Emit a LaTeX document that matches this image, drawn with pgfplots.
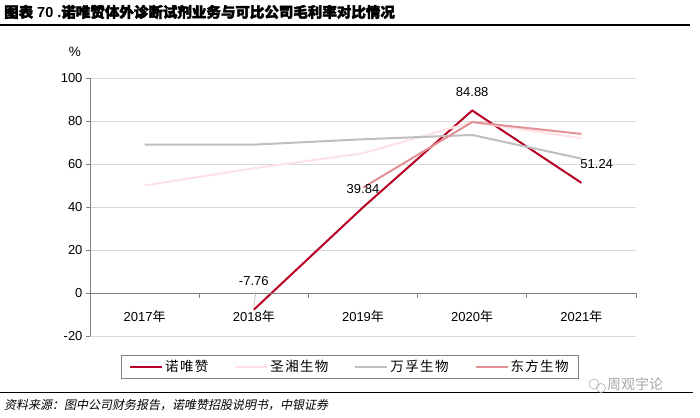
\documentclass[border=0pt]{standalone}
\usepackage{pgfplots}
\pgfplotsset{compat=1.18}
\usepackage{fontspec}
\setmainfont{Liberation Sans}
\newfontfamily\cjk{Noto Sans CJK SC}
\newfontfamily\cjkb{Noto Sans CJK SC}[FakeBold=2.5]
\newfontfamily\cjksl{Noto Sans CJK SC}[FakeSlant=0.2]
\newfontfamily\cjkleg{Noto Sans CJK SC}[LetterSpace=10]
\definecolor{nwz}{RGB}{185,0,38}
\definecolor{sx}{RGB}{255,226,228}
\definecolor{wf}{RGB}{191,191,191}
\definecolor{df}{RGB}{226,146,150}
\definecolor{gridc}{RGB}{217,217,217}
\definecolor{axc}{RGB}{128,128,128}
\begin{document}
\begin{tikzpicture}[x=1pt,y=1pt]
\useasboundingbox (0,0) rectangle (700,-417);
\fill[white] (0,0) rectangle (700,-417);
\node[anchor=west,font=\fontsize{14.5}{16}\selectfont\bfseries,inner sep=0pt] at (4,-12) {{\cjkb 图表} 70 .{\cjkb 诺唯赞体外诊断试剂业务与可比公司毛利率对比情况}};
\draw[line width=1.5pt] (0,-25) -- (690,-25);
\node[font=\fontsize{13.5}{15}\selectfont] at (75,-52) {\%};
\begin{axis}[
  at={(90pt,-336pt)}, anchor=south west,
  scale only axis, width=546pt, height=258pt,
  xmin=0.5, xmax=5.5, ymin=-20, ymax=100,
  ytick={-20,0,20,40,60,80,100},
  xtick={1,2,3,4,5},
  xticklabels={2017{\cjk 年},2018{\cjk 年},2019{\cjk 年},2020{\cjk 年},2021{\cjk 年}},
  axis line style={draw=none},
  ymajorgrids, grid style={color=gridc, line width=0.9pt},
  ytick pos=left, tick align=outside, major tick length=4pt,
  y tick style={color=axc, line width=0.8pt},
  x tick style={draw=none},
  xticklabel style={yshift=33pt},
  ticklabel style={font=\fontsize{13}{14}\selectfont},
  /pgf/number format/assume math mode=true,
  clip=false,
  legend style={at={(0.476,-0.12)}, anchor=center, legend columns=4,
    draw=axc, line width=0.8pt, font=\fontsize{13.5}{15}\selectfont,
    inner xsep=8pt, inner ysep=3pt,
    /tikz/every even column/.append style={column sep=24pt}},
  legend image code/.code={\draw[#1] (0pt,0pt) -- (32pt,0pt);},
]
\addplot[color=nwz, line width=2pt] coordinates {(2,-7.76) (3,39.84) (4,84.88) (5,51.24)};
\addlegendentry{\cjkleg 诺唯赞}
\addplot[color=sx, line width=2pt] coordinates {(1,50) (2,58) (3,65) (4,79.5) (5,72)};
\addlegendentry{\cjkleg 圣湘生物}
\addplot[color=wf, line width=2pt] coordinates {(1,69) (2,69) (3,71.5) (4,73.5) (5,62.5)};
\addlegendentry{\cjkleg 万孚生物}
\addplot[color=df, line width=2pt] coordinates {(3,49) (4,79.5) (5,74)};
\addlegendentry{\cjkleg 东方生物}
\draw[axc, line width=0.8pt] (axis cs:0.5,-20) -- (axis cs:0.5,100);
\draw[axc, line width=0.8pt] (axis cs:0.5,0) -- (axis cs:5.5,0);
\draw[axc, line width=0.8pt] (axis cs:1.5,0) -- ++(0pt,-5pt);
\draw[axc, line width=0.8pt] (axis cs:2.5,0) -- ++(0pt,-5pt);
\draw[axc, line width=0.8pt] (axis cs:3.5,0) -- ++(0pt,-5pt);
\draw[axc, line width=0.8pt] (axis cs:4.5,0) -- ++(0pt,-5pt);
\draw[axc, line width=0.8pt] (axis cs:5.5,0) -- ++(0pt,-5pt);
\draw[wf, line width=0.7pt] (axis cs:2,-6.5) -- (axis cs:2.02,0.8);
\node[font=\fontsize{13}{14}\selectfont] at (axis cs:2,5.6) {-7.76};
\node[font=\fontsize{13}{14}\selectfont] at (axis cs:3,48.2) {39.84};
\node[font=\fontsize{13}{14}\selectfont] at (axis cs:4,93.3) {84.88};
\node[font=\fontsize{13}{14}\selectfont] at (axis cs:5.14,60) {51.24};
\end{axis}
\draw[line width=1pt] (0,-392) -- (693,-392);
\node[anchor=west,font=\fontsize{12}{14}\selectfont,inner sep=0pt] at (4,-405) {\cjksl 资料来源：图中公司财务报告，诺唯赞招股说明书，中银证券};
\draw[gray!60, line width=0.6pt] (594,-384) circle (5);
\draw[gray!60, line width=0.6pt] (601,-388) circle (4.5);
\node[anchor=west,font=\fontsize{14}{16}\selectfont,text=gray!70,inner sep=0pt] at (607,-384) {\cjk 周观宇论};
\end{tikzpicture}
\end{document}
